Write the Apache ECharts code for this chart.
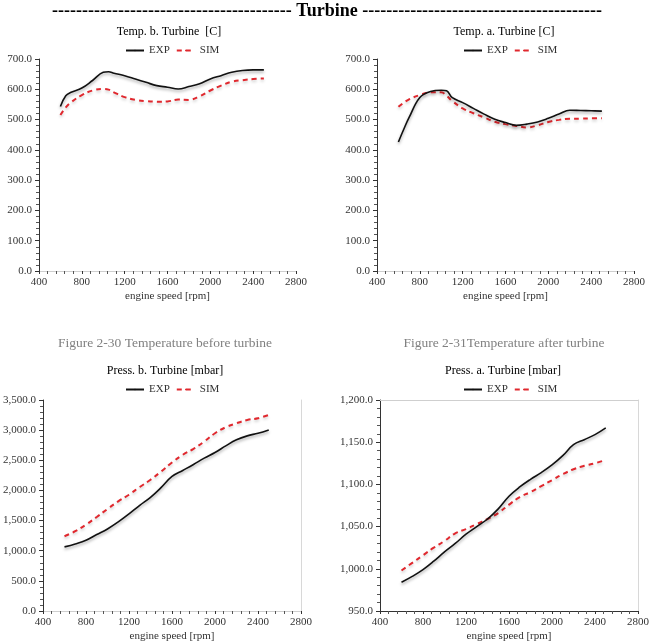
<!DOCTYPE html>
<html><head><meta charset="utf-8">
<script src="https://cdn.jsdelivr.net/npm/echarts@6/dist/echarts.min.js"></script>
<style>html,body{margin:0;padding:0;background:#fff}#c{width:654px;height:643px}</style>
</head><body><div id="c"></div>
<script>
// ---- data ----
const rpm = [600,650,700,800,900,1000,1050,1100,1200,1300,1400,1500,1600,1700,1800,1900,2000,2100,2200,2300,2400,2500];
const tbExp = [543,579,590,604,629,656,658,653,645,634,623,612,607,601,609,618,634,645,656,662,664,664];
const tbSim = [515,540,557,581,596,601,599,590,574,565,561,559,560,566,565,577,596,612,625,630,634,636];
const taExp = [426,468,507,573,593,597,595,573,556,537,518,501,490,481,485,492,504,518,531,530,529,528];
const taSim = [542,556,567,581,590,590,579,562,537,521,507,493,485,479,474,481,492,499,503,503,504,504];
const rpm2 = [600,700,800,900,1000,1100,1200,1300,1400,1500,1600,1700,1800,1900,2000,2100,2200,2300,2400,2500];
const pbExp = [1064,1113,1174,1268,1361,1477,1610,1753,1885,2050,2232,2331,2431,2536,2629,2739,2839,2905,2949,3004];
const pbSim = [1240,1323,1433,1560,1692,1819,1929,2056,2177,2315,2464,2591,2690,2811,2949,3048,3114,3169,3197,3252];
const rpm3 = [600,700,800,900,1000,1100,1200,1300,1400,1500,1600,1700,1800,1900,2000,2100,2200,2300,2400,2475];
const paExp = [984,991,999,1009,1020,1030,1041,1050,1059,1071,1086,1097,1106,1114,1123,1134,1147,1153,1159,1167];
const paSim = [998,1007,1016,1025,1033,1042,1047,1053,1059,1066,1076,1085,1091,1098,1105,1112,1118,1122,1125,1128];
const paExpX = [600,700,800,900,1000,1100,1200,1300,1400,1500,1600,1700,1800,1900,2000,2100,2200,2300,2400,2500];

const chartTitles = ['Temp. b. Turbine  [C]','Temp. a. Turbine [C]','Press. b. Turbine [mbar]','Press. a. Turbine [mbar]'];
const captions = ['Figure 2-30 Temperature before turbine','Figure 2-31Temperature after turbine'];
const yRanges = [[0,700,100],[0,700,100],[0,3500,500],[950,1200,50]];
const xRange = [400,2800,400];

const F = '"Liberation Serif","DejaVu Serif",serif';
const grids = [
  {left:39, top:59, width:257, height:212},
  {left:377, top:59, width:257, height:212},
  {left:43, top:400, width:258, height:212},
  {left:380, top:400, width:258, height:212}
];
const titleCx = [164, 499, 160, 498];
const legendLeft = [120, 458, 120, 458];
const fmtY = v => v.toLocaleString('en-US',{minimumFractionDigits:1,maximumFractionDigits:1});
const dashes = '-'.repeat(40);

const titles = [
  {text: dashes+' Turbine '+dashes, left:'center', top:-3, textStyle:{fontFamily:F,fontSize:18,fontWeight:'bold',color:'#000'}}
];
const legends = [];
const xAxes = [], yAxes = [];
grids.forEach((g,i)=>{
  const ty = i<2 ? 21 : 360;
  titles.push({text:chartTitles[i], left:titleCx[i], textAlign:'center', top:ty, textStyle:{fontFamily:F,fontSize:12,fontWeight:'normal',color:'#000'}});
  legends.push({data:['EXP','SIM'], left:legendLeft[i], top:ty+19, itemWidth:18, itemHeight:2, itemGap:6,
    orient:'horizontal', textStyle:{fontFamily:F,fontSize:11,color:'#333'}, selectedMode:false});
  xAxes.push({gridIndex:i, type:'value', min:xRange[0], max:xRange[1], interval:xRange[2],
    name:'engine speed [rpm]', nameLocation:'middle', nameGap:20,
    nameTextStyle:{fontFamily:F,fontSize:11,color:'#333'},
    axisLine:{lineStyle:{color:'#333',width:1}}, axisTick:{inside:false,length:3,lineStyle:{color:'#333'}},
    minorTick:{show:true,splitNumber:5,length:3,lineStyle:{color:'#555'}},
    axisLabel:{fontFamily:F,fontSize:11,color:'#333',margin:6,formatter:v=>String(v)}, splitLine:{show:false}});
  xAxes.push({gridIndex:i, type:'value', position:'top', min:xRange[0], max:xRange[1],
    axisLine:{show:true,lineStyle:{color:'#cfcfcf',width:1}}, axisTick:{show:false}, axisLabel:{show:false}, splitLine:{show:false}});
  const yr = yRanges[i];
  yAxes.push({gridIndex:i, type:'value', min:yr[0], max:yr[1], interval:yr[2],
    axisLine:{show:true,lineStyle:{color:'#333',width:1}}, axisTick:{show:true,length:4,lineStyle:{color:'#333'}},
    minorTick:{show:true,splitNumber:5,length:3,lineStyle:{color:'#555'}},
    axisLabel:{fontFamily:F,fontSize:11,color:'#333',margin:7,formatter:fmtY}, splitLine:{show:false}});
  yAxes.push({gridIndex:i, type:'value', position:'right', min:yr[0], max:yr[1],
    axisLine:{show:i>=2,lineStyle:{color:'#d8d8d8',width:1}}, axisTick:{show:false}, axisLabel:{show:false}, splitLine:{show:false}});
});
titles.push({text:captions[0], left:160, textAlign:'center', top:331, textStyle:{fontFamily:F,fontSize:13.5,fontWeight:'normal',color:'#808080'}});
titles.push({text:captions[1], left:499, textAlign:'center', top:331, textStyle:{fontFamily:F,fontSize:13.5,fontWeight:'normal',color:'#808080'}});

function pair(xs, ys){ return xs.map((x,k)=>[x,ys[k]]); }
const sets = [
  [pair(rpm,tbExp), pair(rpm,tbSim)],
  [pair(rpm,taExp), pair(rpm,taSim)],
  [pair(rpm2,pbExp), pair(rpm2,pbSim)],
  [pair(paExpX,paExp), pair(rpm3,paSim)]
];
const series = [];
sets.forEach((s,i)=>{
  series.push({name:'EXP', type:'line', xAxisIndex:2*i, yAxisIndex:2*i, data:s[0], smooth:0.4, symbol:'none',
    lineStyle:{color:'#111',width:1.6,shadowColor:'rgba(0,0,0,0.35)',shadowBlur:3,shadowOffsetY:2}, itemStyle:{color:'#111'}, z:3});
  series.push({name:'SIM', type:'line', xAxisIndex:2*i, yAxisIndex:2*i, data:s[1], smooth:0.4, symbol:'none',
    lineStyle:{color:'#e0282e',width:2,type:[5,4],shadowColor:'rgba(0,0,0,0.2)',shadowBlur:3,shadowOffsetY:2}, itemStyle:{color:'#e0282e'}, z:2});
});

const chart = echarts.init(document.getElementById('c'), null, {renderer:'canvas'});
chart.setOption({
  animation:false, backgroundColor:'#fff',
  title: titles, legend: legends, grid: grids, xAxis: xAxes, yAxis: yAxes, series: series
});
</script></body></html>
